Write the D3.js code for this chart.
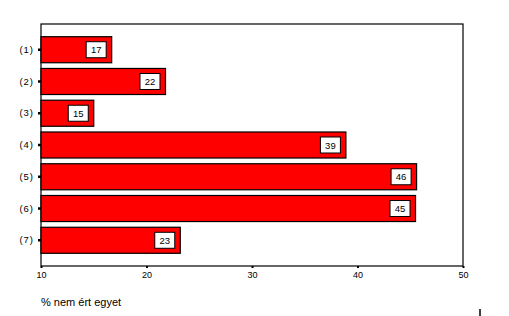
<!DOCTYPE html>
<html>
<head>
<meta charset="utf-8">
<script src="https://cdn.jsdelivr.net/npm/d3@7"></script>
<style>
body { margin:0; background:#fff; }
svg text { font-family: Arial, "Liberation Sans", sans-serif; }
</style>
</head>
<body>
<div id="chart"></div>
<script>
var categories = ["(1)", "(2)", "(3)", "(4)", "(5)", "(6)", "(7)"];
var values     = [16.7, 21.8, 15.0, 38.9, 45.6, 45.5, 23.2];
var labels     = ["17", "22", "15", "39", "46", "45", "23"];
var xTicks     = [10, 20, 30, 40, 50];
var xTitle     = "% nem ért egyet";

var width  = 509;
var height = 316;
var margin = {left:41, right:46, top:24, bottom:50};

var svg = d3.select("#chart").append("svg").attr("width", width).attr("height", height);

var x = d3.scaleLinear().domain([10,50]).range([margin.left, width-margin.right]);
var y = d3.scaleBand().domain(categories).range([margin.top, height-margin.bottom]).paddingInner(0.18).paddingOuter(0.4);

// frame
svg.append("rect").attr("x", margin.left).attr("y", margin.top)
   .attr("width", width-margin.right-margin.left).attr("height", height-margin.bottom-margin.top)
   .attr("fill", "none").attr("stroke", "#000").attr("stroke-width", 1.2);

// bars
var data = categories.map(function(c,i){ return {cat:c, value:values[i], label:labels[i]}; });

svg.selectAll(".bar").data(data).enter().append("rect")
   .attr("x", x(10))
   .attr("y", function(d){ return y(d.cat); })
   .attr("width", function(d){ return x(d.value)-x(10); })
   .attr("height", y.bandwidth())
   .attr("fill", "#ff0000").attr("stroke", "#000").attr("stroke-width", 1.2);

// value boxes
var boxW = 20, boxH = 16;
svg.selectAll(".lblbox").data(data).enter().append("rect")
   .attr("x", function(d){ return x(d.value)-5.5-boxW; })
   .attr("y", function(d){ return y(d.cat)+y.bandwidth()/2-boxH/2; })
   .attr("width", boxW).attr("height", boxH)
   .attr("fill", "#fff").attr("stroke", "#000").attr("stroke-width", 1);

svg.selectAll(".lbl").data(data).enter().append("text")
   .attr("x", function(d){ return x(d.value)-5.5-boxW/2; })
   .attr("y", function(d){ return y(d.cat)+y.bandwidth()/2+3.5; })
   .attr("text-anchor", "middle").attr("font-size", "9.5px").attr("fill", "#000")
   .text(function(d){ return d.label; });

// y axis
var yAxis = d3.axisLeft(y).tickSize(3).tickPadding(4);
var gy = svg.append("g").attr("transform", "translate("+margin.left+",0)").call(yAxis);
gy.select(".domain").remove();
gy.selectAll("line").attr("stroke", "#000").attr("stroke-width", 2.5);
gy.selectAll("text").attr("font-size", "9.5px").attr("fill", "#000").attr("letter-spacing", "1px")
  .attr("font-family", "Arial, 'Liberation Sans', sans-serif");

// x axis
var xAxis = d3.axisBottom(x).tickValues(xTicks).tickSize(2).tickPadding(4);
var gx = svg.append("g").attr("transform", "translate(0,"+(height-margin.bottom)+")").call(xAxis);
gx.select(".domain").remove();
gx.selectAll("line").attr("stroke", "#000").attr("stroke-width", 2);
gx.selectAll("text").attr("font-size", "9px").attr("fill", "#000").attr("font-family", "Arial, 'Liberation Sans', sans-serif");

// axis title
svg.append("text").attr("x", margin.left).attr("y", 306)
   .attr("font-size", "11px").attr("fill", "#000").text(xTitle);

// small stray mark at bottom right
svg.append("line").attr("x1", 480).attr("y1", 309).attr("x2", 480).attr("y2", 316)
   .attr("stroke", "#000").attr("stroke-width", 1.5);
</script>
</body>
</html>
